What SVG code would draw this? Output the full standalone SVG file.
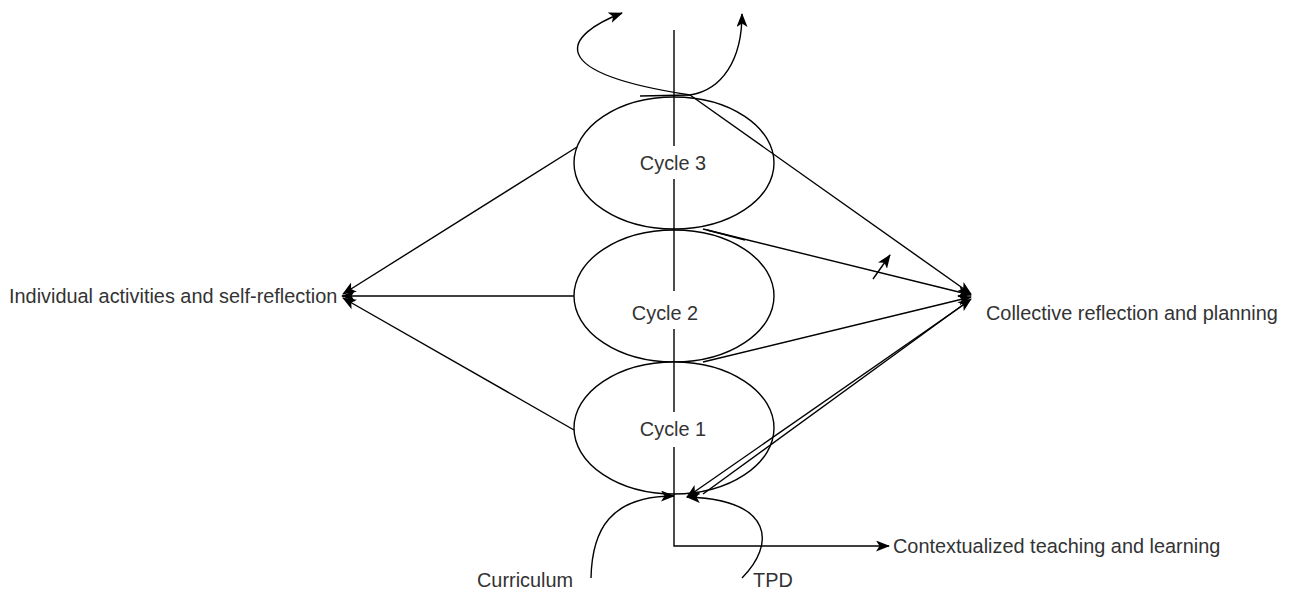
<svg xmlns="http://www.w3.org/2000/svg" width="1289" height="593" viewBox="0 0 1289 593">
  <defs>
    <marker id="arrow" viewBox="0 0 14 11" refX="13" refY="5.5" markerWidth="14" markerHeight="11" markerUnits="userSpaceOnUse" orient="auto">
      <path d="M0,0 L14,5.5 L0,11 L3.5,5.5 Z" fill="#000"/>
    </marker>
    <style>
      .cycle { fill: #fff; stroke: #000; stroke-width: 1.4; }
      .edge { fill: none; stroke: #000; stroke-width: 1.4; }
      .arr { marker-end: url(#arrow); }
      .label { font-family: "Liberation Sans", Arial, sans-serif; font-size: 19.9px; fill: #333; }
      .mid { text-anchor: middle; }
    </style>
  </defs>

  <rect width="1289" height="593" fill="#fff"/>

  <!-- cycles -->
  <g id="cycle3">
    <ellipse class="cycle" cx="674" cy="163" rx="100" ry="66"/>
  </g>
  <g id="cycle2">
    <ellipse class="cycle" cx="674" cy="296" rx="100" ry="66"/>
  </g>
  <g id="cycle1">
    <ellipse class="cycle" cx="674" cy="428" rx="100" ry="66"/>
  </g>

  <!-- connectors -->
  <g id="connectors">
    <!-- central axis running through all cycles and out to the right -->
    <path class="edge" d="M674,30 L674,146"/>
    <path class="edge" d="M674,179 L674,291"/>
    <path class="edge" d="M674,329 L674,412"/>
    <path class="edge arr" d="M674,447 L674,546 L889,546"/>

    <!-- towards individual activities -->
    <path class="edge arr" d="M577,147 L343,294"/>
    <path class="edge arr" d="M574,296 L342,296"/>
    <path class="edge arr" d="M574,430 L343,298"/>

    <!-- towards collective reflection -->
    <path class="edge arr" d="M690,95 L971,294"/>
    <path class="edge arr" d="M703,229 L971,295"/>
    <path class="edge" d="M707,230 L745,240"/>
    <path class="edge arr" d="M703,362 L971,297"/>
    <path class="edge arr" d="M703,494 L971,299"/>
    <path class="edge arr" d="M969,301 L687,497"/>

    <!-- small stray arrow -->
    <path class="edge arr" d="M873,279 L890,255"/>

    <!-- spirals leaving cycle 3 at the top -->
    <path class="edge arr" d="M690,95 C540,72 565,35 622,13"/>
    <path class="edge arr" d="M640,96 L690,95 C722,90 742,60 742,14"/>

    <!-- inputs at the bottom -->
    <path class="edge arr" d="M591,578 C592,530 610,496 674,496"/>
    <path class="edge arr" d="M742,578 C775,545 775,500 687,497"/>
  </g>

  <!-- labels -->
  <g id="label-cycle3">
    <text class="label mid" x="673" y="170">Cycle 3</text>
  </g>
  <g id="label-cycle2">
    <text class="label mid" x="665" y="320">Cycle 2</text>
  </g>
  <g id="label-cycle1">
    <text class="label mid" x="673" y="436">Cycle 1</text>
  </g>
  <g id="individual">
    <text class="label" x="9" y="303">Individual activities and self-reflection</text>
  </g>
  <g id="collective">
    <text class="label" x="986" y="320">Collective reflection and planning</text>
  </g>
  <g id="contextualized">
    <text class="label" x="893" y="553">Contextualized teaching and learning</text>
  </g>
  <g id="curriculum">
    <text class="label" x="477" y="587">Curriculum</text>
  </g>
  <g id="tpd">
    <text class="label" x="753" y="587">TPD</text>
  </g>
</svg>
